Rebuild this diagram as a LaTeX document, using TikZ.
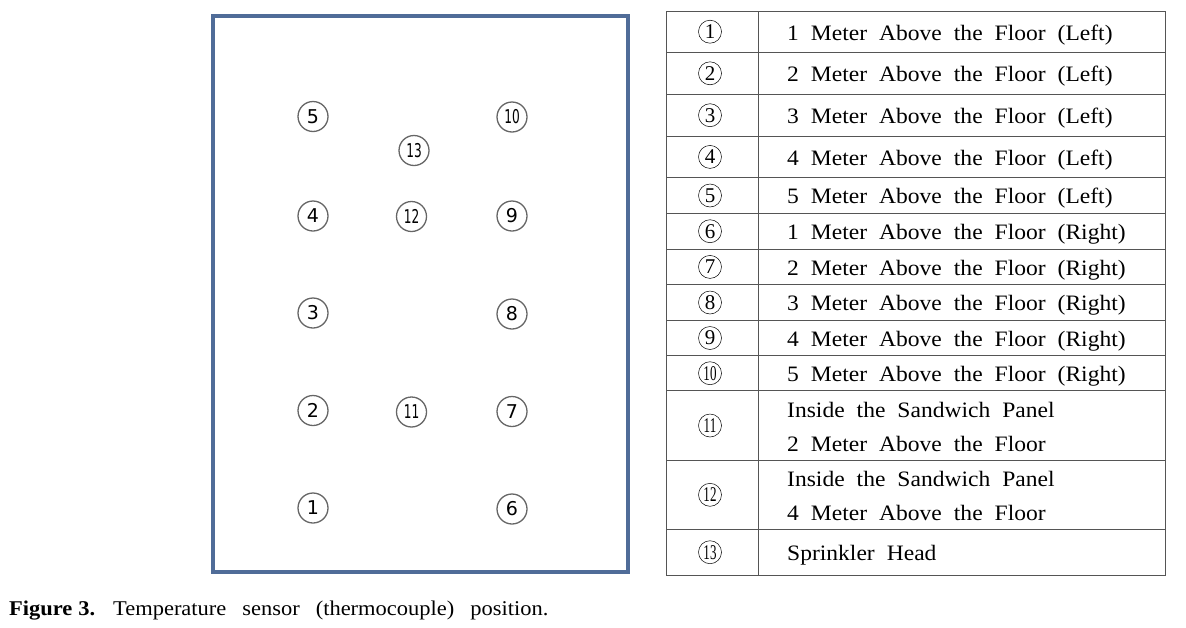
\documentclass[tikz,border=0pt]{standalone}
\usepackage{fontspec}
\usepackage{graphicx}
\setmainfont{Liberation Serif}
\newfontfamily\tabfont[FakeStretch=1.07]{Liberation Serif}
\newfontfamily\sensfont{DejaVu Sans}
\definecolor{boxblue}{RGB}{80,108,152}
\definecolor{gridgray}{RGB}{85,85,85}
\newcommand{\tw}[1]{\scalebox{0.64}[1]{#1}}
\newcommand{\ttw}[1]{\scalebox{0.62}[1]{#1}}
\newcommand{\tabsp}{\spaceskip=12pt\relax}
\newcommand{\capsp}{\spaceskip=16pt\relax}
\newcommand{\boldsp}{\spaceskip=6pt\relax}
\begin{document}
\begin{tikzpicture}[x=1pt,y=-1pt,
  sensor/.style={circle, draw=black!60, line width=1.3pt, minimum size=30pt, inner sep=0pt,
    font=\sensfont\fontsize{19}{19}\selectfont},
  tabnum/.style={circle, draw=black, line width=0.5pt, minimum size=23pt, inner sep=0pt,
    font=\fontsize{21}{21}\selectfont},
  celltext/.style={anchor=base west, inner sep=0pt,
    font=\tabfont\fontsize{22}{33}\selectfont\tabsp},
  gridline/.style={draw=gridgray, line width=1pt},
  roombox/.style={draw=boxblue, line width=4pt, inner sep=0pt, minimum width=415.5pt, minimum height=556.5pt}
]
\useasboundingbox (0,0) rectangle (1186,627);

% room outline
\node[roombox] (room) at (420.25,293.75) {};

% sensors
\node[sensor] (s1) at (313,508) {1};
\node[sensor] (s2) at (313,410.5) {2};
\node[sensor] (s3) at (313,313) {3};
\node[sensor] (s4) at (313,216) {4};
\node[sensor] (s5) at (313,116.5) {5};
\node[sensor] (s6) at (512,509) {6};
\node[sensor] (s7) at (512,411.5) {7};
\node[sensor] (s8) at (512,314) {8};
\node[sensor] (s9) at (512,216) {9};
\node[sensor] (s10) at (512,117) {\tw{10}};
\node[sensor] (s11) at (411.5,412) {\tw{11}};
\node[sensor] (s12) at (411.5,216.5) {\tw{12}};
\node[sensor] (s13) at (414,150.5) {\tw{13}};

% table grid
\draw[gridline] (666,11) rectangle (1165.5,575);
\draw[gridline] (758.5,11) -- (758.5,575);
\foreach \yy in {52.3,94.3,136,177.7,213.3,249,284.7,320.3,355.7,390.7,460.3,529.3}
  \draw[gridline] (666,\yy) -- (1165.5,\yy);

% table numbers
\node[tabnum] (t1) at (710,31.7) {1};
\node[tabnum] (t2) at (710,73.3) {2};
\node[tabnum] (t3) at (710,115.2) {3};
\node[tabnum] (t4) at (710,156.9) {4};
\node[tabnum] (t5) at (710,195.5) {5};
\node[tabnum] (t6) at (710,231.2) {6};
\node[tabnum] (t7) at (710,266.9) {7};
\node[tabnum] (t8) at (710,302.5) {8};
\node[tabnum] (t9) at (710,338) {9};
\node[tabnum] (t10) at (710,373.2) {\ttw{10}};
\node[tabnum] (t11) at (710,425.5) {\ttw{11}};
\node[tabnum] (t12) at (710,494.8) {\ttw{12}};
\node[tabnum] (t13) at (710,552.2) {\ttw{13}};

% table texts
\node[celltext] (d1) at (787,40) {1 Meter Above the Floor (Left)};
\node[celltext] (d2) at (787,81.6) {2 Meter Above the Floor (Left)};
\node[celltext] (d3) at (787,123.5) {3 Meter Above the Floor (Left)};
\node[celltext] (d4) at (787,165.2) {4 Meter Above the Floor (Left)};
\node[celltext] (d5) at (787,203.8) {5 Meter Above the Floor (Left)};
\node[celltext] (d6) at (787,239.5) {1 Meter Above the Floor (Right)};
\node[celltext] (d7) at (787,275.2) {2 Meter Above the Floor (Right)};
\node[celltext] (d8) at (787,310.8) {3 Meter Above the Floor (Right)};
\node[celltext] (d9) at (787,346.3) {4 Meter Above the Floor (Right)};
\node[celltext] (d10) at (787,381.5) {5 Meter Above the Floor (Right)};
\node[celltext] (d11a) at (787,417) {Inside the Sandwich Panel};
\node[celltext] (d11b) at (787,451) {2 Meter Above the Floor};
\node[celltext] (d12a) at (787,486.3) {Inside the Sandwich Panel};
\node[celltext] (d12b) at (787,520.3) {4 Meter Above the Floor};
\node[celltext] (d13) at (787,560.5) {Sprinkler Head};

% caption
\node[anchor=base west, inner sep=0pt, font=\tabfont\fontsize{21}{21}\selectfont\capsp] (cap) at (9,615)
  {{\bfseries\boldsp Figure 3.} Temperature sensor (thermocouple) position.};
\end{tikzpicture}
\end{document}
